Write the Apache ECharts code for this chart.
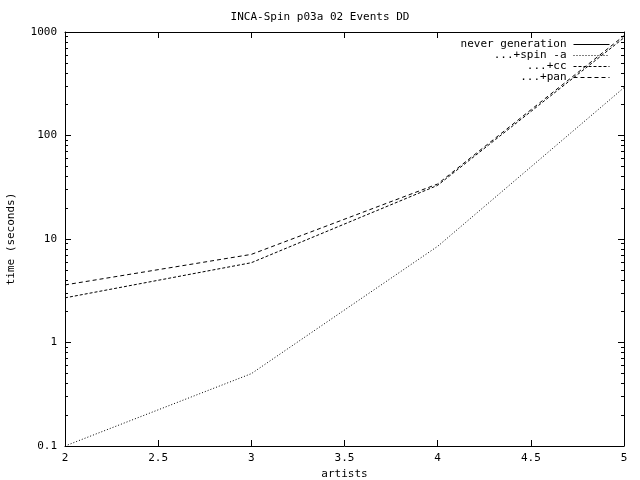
<!DOCTYPE html>
<html><head><meta charset="utf-8">
<script src="https://cdn.jsdelivr.net/npm/echarts@6/dist/echarts.min.js"></script>
<style>html,body{margin:0;padding:0;background:#fff}#c{width:640px;height:480px}</style>
</head><body><div id="c"></div>
<script>
const artists = [2, 3, 4, 5];
const neverGeneration = [];
const spinA = [0.1, 0.5, 8.5, 290];
const cc = [2.7, 5.9, 33, 880];
const pan = [3.6, 7.1, 34, 920];
const seriesNames = ['never generation', '...+spin -a', '...+cc', '...+pan'];
const xTicks = [2, 2.5, 3, 3.5, 4, 4.5, 5];
const yTicks = [0.1, 1, 10, 100, 1000];

const FONT = 'DejaVu Sans Mono';
const fs = 11;
const pts = ys => artists.map((x, i) => [x, ys[i]]).filter(p => p[1] !== undefined);

const chart = echarts.init(document.getElementById('c'), null, {renderer: 'canvas'});
const baseY = {
  type: 'log', logBase: 10, min: 0.1, max: 1000,
  axisLine: {show: true, lineStyle: {color: '#000', width: 1}},
  axisTick: {show: true, inside: true, length: 6, lineStyle: {color: '#000'}},
  minorTick: {show: true, splitNumber: 9, length: 3, lineStyle: {color: '#000'}},
  splitLine: {show: false}
};
const baseX = {
  type: 'value', min: 2, max: 5, interval: 0.5,
  axisLine: {show: true, onZero: false, lineStyle: {color: '#000', width: 1}},
  axisTick: {show: true, inside: true, length: 6, lineStyle: {color: '#000'}},
  splitLine: {show: false}
};
chart.setOption({
  animation: false,
  backgroundColor: '#fff',
  textStyle: {fontFamily: FONT, color: '#000'},
  title: {
    text: 'INCA-Spin p03a 02 Events DD', left: 'center', top: 7,
    textStyle: {fontFamily: FONT, fontSize: fs, fontWeight: 'normal', color: '#000'}
  },
  legend: {
    data: seriesNames, orient: 'vertical', right: 30, top: 39, padding: 0,
    align: 'right', itemWidth: 36, itemHeight: 8, itemGap: 0,
    itemStyle: {opacity: 0, borderWidth: 0},
    lineStyle: {width: 1},
    textStyle: {fontFamily: FONT, fontSize: fs, color: '#000', lineHeight: 11, padding: [0, 2, 0, 0]},
    backgroundColor: 'transparent'
  },
  grid: {left: 65, right: 16, top: 32, bottom: 34, containLabel: false, outerBoundsMode: 'none'},
  xAxis: [
    Object.assign({}, baseX, {
      position: 'bottom', name: 'artists', nameLocation: 'middle', nameGap: 22,
      nameTextStyle: {fontFamily: FONT, fontSize: fs, color: '#000'},
      axisLabel: {fontFamily: FONT, fontSize: fs, color: '#000', margin: 7,
        formatter: v => String(v)}
    }),
    Object.assign({}, baseX, {position: 'top', axisLabel: {show: false}})
  ],
  yAxis: [
    Object.assign({}, baseY, {
      position: 'left', name: 'time (seconds)', nameLocation: 'middle', nameGap: 48,
      nameTextStyle: {fontFamily: FONT, fontSize: fs, color: '#000'},
      axisLabel: {fontFamily: FONT, fontSize: fs, color: '#000', margin: 8,
        formatter: v => String(v)}
    }),
    Object.assign({}, baseY, {position: 'right', axisLabel: {show: false}})
  ],
  series: [
    {name: seriesNames[0], type: 'line', data: pts(neverGeneration), symbol: 'none',
      lineStyle: {color: '#000', width: 1, type: 'solid'}, itemStyle: {color: '#000'}},
    {name: seriesNames[1], type: 'line', data: pts(spinA), symbol: 'none',
      lineStyle: {color: '#000', width: 1, type: [1, 2]}, itemStyle: {color: '#000'}},
    {name: seriesNames[2], type: 'line', data: pts(cc), symbol: 'none',
      lineStyle: {color: '#000', width: 1, type: [3, 2]}, itemStyle: {color: '#000'}},
    {name: seriesNames[3], type: 'line', data: pts(pan), symbol: 'none',
      lineStyle: {color: '#000', width: 1, type: [4, 3]}, itemStyle: {color: '#000'}}
  ]
});
</script></body></html>
